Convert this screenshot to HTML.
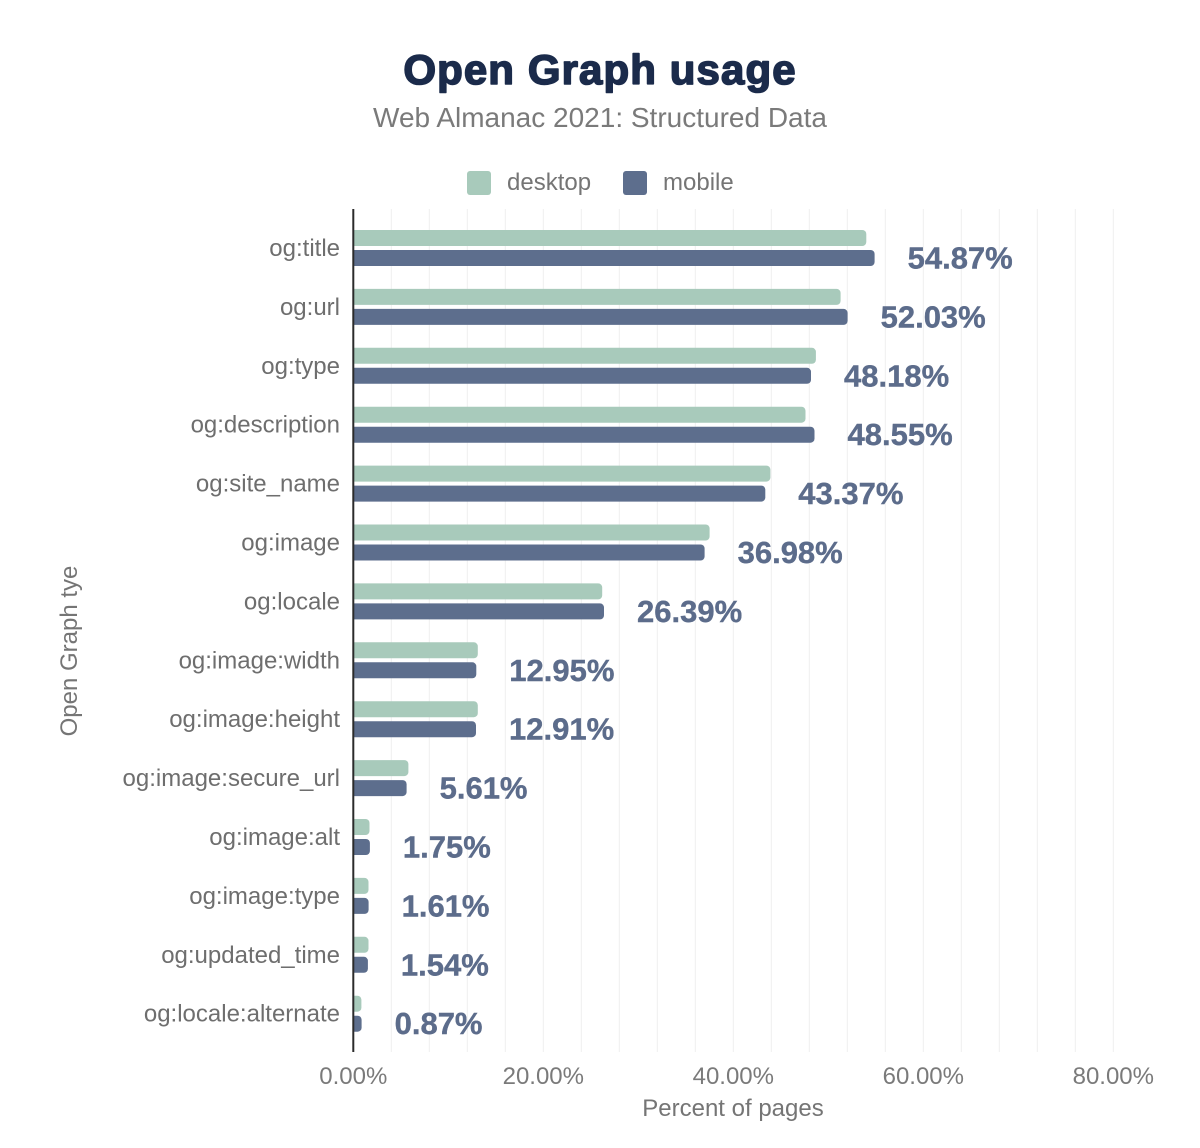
<!DOCTYPE html>
<html>
<head>
<meta charset="utf-8">
<style>
  html, body { margin: 0; padding: 0; background: #ffffff; }
  svg { display: block; }
  text { font-family: "Liberation Sans", Arial, sans-serif; }
</style>
</head>
<body>
<svg width="1200" height="1148" viewBox="0 0 1200 1148" xmlns="http://www.w3.org/2000/svg">
  <rect width="1200" height="1148" fill="#ffffff"/>
  <defs>
    <clipPath id="plot"><rect x="353.3" y="200" width="840" height="870"/></clipPath>
  </defs>

  <!-- Title -->
  <text x="600" y="84" text-anchor="middle" font-size="42" font-weight="bold" fill="#1b2b4b" stroke="#1b2b4b" stroke-width="1.6" stroke-linejoin="round" letter-spacing="1.1">Open Graph usage</text>
  <text x="600" y="127" text-anchor="middle" font-size="28" fill="#7a7a7a">Web Almanac 2021: Structured Data</text>

  <!-- Legend -->
  <rect x="467" y="171" width="24" height="24" rx="3" fill="#a8cabb"/>
  <text x="507" y="190" font-size="24" fill="#757575">desktop</text>
  <rect x="623" y="171" width="24" height="24" rx="3" fill="#5d6e8d"/>
  <text x="663" y="190" font-size="24" fill="#757575">mobile</text>

  <!-- Gridlines -->
  <g stroke="#efefef" stroke-width="1">
    <line x1="391.3" y1="209" x2="391.3" y2="1052"/>
    <line x1="429.3" y1="209" x2="429.3" y2="1052"/>
    <line x1="467.3" y1="209" x2="467.3" y2="1052"/>
    <line x1="505.3" y1="209" x2="505.3" y2="1052"/>
    <line x1="543.3" y1="209" x2="543.3" y2="1052"/>
    <line x1="581.3" y1="209" x2="581.3" y2="1052"/>
    <line x1="619.3" y1="209" x2="619.3" y2="1052"/>
    <line x1="657.3" y1="209" x2="657.3" y2="1052"/>
    <line x1="695.3" y1="209" x2="695.3" y2="1052"/>
    <line x1="733.3" y1="209" x2="733.3" y2="1052"/>
    <line x1="771.3" y1="209" x2="771.3" y2="1052"/>
    <line x1="809.3" y1="209" x2="809.3" y2="1052"/>
    <line x1="847.3" y1="209" x2="847.3" y2="1052"/>
    <line x1="885.3" y1="209" x2="885.3" y2="1052"/>
    <line x1="923.3" y1="209" x2="923.3" y2="1052"/>
    <line x1="961.3" y1="209" x2="961.3" y2="1052"/>
    <line x1="999.3" y1="209" x2="999.3" y2="1052"/>
    <line x1="1037.3" y1="209" x2="1037.3" y2="1052"/>
    <line x1="1075.3" y1="209" x2="1075.3" y2="1052"/>
    <line x1="1113.3" y1="209" x2="1113.3" y2="1052"/>
  </g>

  <!-- Bars -->
  <g clip-path="url(#plot)">
    <g fill="#a8cabb">
      <rect x="345" y="230" width="521.3" height="16" rx="4"/>
      <rect x="345" y="288.9" width="495.6" height="16" rx="4"/>
      <rect x="345" y="347.8" width="470.9" height="16" rx="4"/>
      <rect x="345" y="406.7" width="460.5" height="16" rx="4"/>
      <rect x="345" y="465.6" width="425.4" height="16" rx="4"/>
      <rect x="345" y="524.5" width="364.6" height="16" rx="4"/>
      <rect x="345" y="583.4" width="257.2" height="16" rx="4"/>
      <rect x="345" y="642.3" width="132.8" height="16" rx="4"/>
      <rect x="345" y="701.2" width="132.8" height="16" rx="4"/>
      <rect x="345" y="760.1" width="63.4" height="16" rx="4"/>
      <rect x="345" y="819" width="24.5" height="16" rx="4"/>
      <rect x="345" y="877.9" width="23.5" height="16" rx="4"/>
      <rect x="345" y="936.8" width="23.5" height="16" rx="4"/>
      <rect x="345" y="995.7" width="16.4" height="16" rx="4"/>
    </g>
    <g fill="#5d6e8d">
      <rect x="345" y="250" width="529.6" height="16" rx="4"/>
      <rect x="345" y="308.9" width="502.6" height="16" rx="4"/>
      <rect x="345" y="367.8" width="466" height="16" rx="4"/>
      <rect x="345" y="426.7" width="469.5" height="16" rx="4"/>
      <rect x="345" y="485.6" width="420.3" height="16" rx="4"/>
      <rect x="345" y="544.5" width="359.6" height="16" rx="4"/>
      <rect x="345" y="603.4" width="259" height="16" rx="4"/>
      <rect x="345" y="662.3" width="131.3" height="16" rx="4"/>
      <rect x="345" y="721.2" width="131" height="16" rx="4"/>
      <rect x="345" y="780.1" width="61.6" height="16" rx="4"/>
      <rect x="345" y="839" width="24.9" height="16" rx="4"/>
      <rect x="345" y="897.9" width="23.6" height="16" rx="4"/>
      <rect x="345" y="956.8" width="22.9" height="16" rx="4"/>
      <rect x="345" y="1015.7" width="16.6" height="16" rx="4"/>
    </g>
  </g>

  <!-- Axis line -->
  <line x1="353.3" y1="209" x2="353.3" y2="1052" stroke="#2b2b2b" stroke-width="2"/>

  <!-- Value labels -->
  <g font-size="31" font-weight="bold" fill="#5c6c8b" stroke="#5c6c8b" stroke-width="0.4">
    <text x="907.6" y="268.5">54.87%</text>
    <text x="880.6" y="327.4">52.03%</text>
    <text x="844" y="386.3">48.18%</text>
    <text x="847.5" y="445.2">48.55%</text>
    <text x="798.3" y="504.1">43.37%</text>
    <text x="737.6" y="563">36.98%</text>
    <text x="637" y="621.9">26.39%</text>
    <text x="509.3" y="680.8">12.95%</text>
    <text x="509" y="739.7">12.91%</text>
    <text x="439.6" y="798.6">5.61%</text>
    <text x="402.9" y="857.5">1.75%</text>
    <text x="401.6" y="916.4">1.61%</text>
    <text x="400.9" y="975.3">1.54%</text>
    <text x="394.6" y="1034.2">0.87%</text>
  </g>

  <!-- Category labels -->
  <g font-size="24" fill="#6e6e6e" text-anchor="end">
    <text x="340" y="256">og:title</text>
    <text x="340" y="314.9">og:url</text>
    <text x="340" y="373.8">og:type</text>
    <text x="340" y="432.7">og:description</text>
    <text x="340" y="491.6">og:site_name</text>
    <text x="340" y="550.5">og:image</text>
    <text x="340" y="609.4">og:locale</text>
    <text x="340" y="668.3">og:image:width</text>
    <text x="340" y="727.2">og:image:height</text>
    <text x="340" y="786.1">og:image:secure_url</text>
    <text x="340" y="845">og:image:alt</text>
    <text x="340" y="903.9">og:image:type</text>
    <text x="340" y="962.8">og:updated_time</text>
    <text x="340" y="1021.7">og:locale:alternate</text>
  </g>

  <!-- Tick labels -->
  <g font-size="24" fill="#7a7a7a" text-anchor="middle">
    <text x="353.3" y="1084">0.00%</text>
    <text x="543.3" y="1084">20.00%</text>
    <text x="733.3" y="1084">40.00%</text>
    <text x="923.3" y="1084">60.00%</text>
    <text x="1113.3" y="1084">80.00%</text>
  </g>

  <!-- Axis titles -->
  <text x="733" y="1116" text-anchor="middle" font-size="24" fill="#757575">Percent of pages</text>
  <text transform="translate(77,651) rotate(-90)" text-anchor="middle" font-size="24" fill="#757575">Open Graph tye</text>
</svg>
</body>
</html>
